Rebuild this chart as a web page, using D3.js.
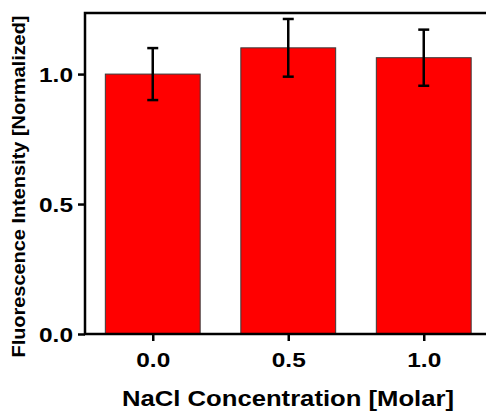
<!DOCTYPE html>
<html>
<head>
<meta charset="utf-8">
<script src="https://cdn.jsdelivr.net/npm/d3@7"></script>
<style>
    body { margin: 0; background: #fff; }
    svg { display: block; font-family: "Liberation Sans", Arial, sans-serif; }
</style>
</head>
<body>
<svg width="486" height="411"></svg>
<script>
const width = 486;
const height = 411;

// chart data
const concentrations = [0.0, 0.5, 1.0];
const intensities = [1.0, 1.101, 1.063];
const errors = [0.1, 0.111, 0.108];
const yTicks = [0.0, 0.5, 1.0];
const xTicks = [0.0, 0.5, 1.0];

const data = concentrations.map((c, i) => ({ conc: c, value: intensities[i], err: errors[i] }));

const svg = d3.select("svg");

// plot box is cut off on the right in the original
const x = d3.scaleLinear().domain([-0.25, 1.25]).range([85, 491.5]);
const y = d3.scaleLinear().domain([0, 1.235]).range([334, 13]);
const barHalf = 0.175; // in data units

// bars
svg.append("g")
    .selectAll("rect")
    .data(data)
    .enter()
    .append("rect")
    .attr("x", (d) => x(d.conc - barHalf))
    .attr("width", (d) => x(d.conc + barHalf) - x(d.conc - barHalf))
    .attr("y", (d) => y(d.value))
    .attr("height", (d) => y(0) - y(d.value))
    .attr("fill", "#ff0000")
    .attr("stroke", "#3a3a3a")
    .attr("stroke-width", 1);

// error bars
const eb = svg.append("g")
    .attr("stroke", "#000")
    .attr("stroke-width", 2.5);
eb.selectAll(".stem")
    .data(data)
    .enter()
    .append("line")
    .attr("x1", (d) => x(d.conc))
    .attr("x2", (d) => x(d.conc))
    .attr("y1", (d) => y(d.value + d.err))
    .attr("y2", (d) => y(d.value - d.err));
["top", "bottom"].forEach((side) => {
    eb.selectAll(".cap-" + side)
        .data(data)
        .enter()
        .append("line")
        .attr("x1", (d) => x(d.conc) - 5.5)
        .attr("x2", (d) => x(d.conc) + 5.5)
        .attr("y1", (d) => y(side === "top" ? d.value + d.err : d.value - d.err))
        .attr("y2", (d) => y(side === "top" ? d.value + d.err : d.value - d.err));
});

// frame
svg.append("rect")
    .attr("x", x.range()[0])
    .attr("y", y.range()[1])
    .attr("width", x.range()[1] - x.range()[0])
    .attr("height", y.range()[0] - y.range()[1])
    .attr("fill", "none")
    .attr("stroke", "#000")
    .attr("stroke-width", 2.5);

// y axis
svg.append("g")
    .attr("transform", `translate(${x.range()[0]},0)`)
    .call(d3.axisLeft(y).tickValues(yTicks).tickSize(7).tickFormat(d3.format(".1f")))
    .call((g) => g.select(".domain").remove())
    .call((g) => g.selectAll(".tick line").attr("stroke-width", 2.5))
    .call((g) =>
        g.selectAll(".tick text")
            .attr("x", -12)
            .attr("dy", 7.5)
            .attr("font-size", 21)
            .attr("font-weight", "bold")
            .attr("font-family", "Liberation Sans, Arial, sans-serif")
            .attr("fill", "#000")
            .attr("textLength", 34)
            .attr("lengthAdjust", "spacingAndGlyphs")
    );

// x axis
svg.append("g")
    .attr("transform", `translate(0,${y.range()[0]})`)
    .call(d3.axisBottom(x).tickValues(xTicks).tickSize(7).tickFormat(d3.format(".1f")))
    .call((g) => g.select(".domain").remove())
    .call((g) => g.selectAll(".tick line").attr("stroke-width", 2.5))
    .call((g) =>
        g.selectAll(".tick text")
            .attr("y", 33)
            .attr("dy", 0)
            .attr("font-size", 21)
            .attr("font-weight", "bold")
            .attr("font-family", "Liberation Sans, Arial, sans-serif")
            .attr("fill", "#000")
            .attr("textLength", 34)
            .attr("lengthAdjust", "spacingAndGlyphs")
    );

// axis titles
svg.append("text")
    .attr("x", 288)
    .attr("y", 406)
    .attr("text-anchor", "middle")
    .attr("font-size", 22)
    .attr("font-weight", "bold")
    .attr("textLength", 332)
    .attr("lengthAdjust", "spacingAndGlyphs")
    .text("NaCl Concentration [Molar]");

svg.append("text")
    .attr("transform", "translate(25,186.5) rotate(-90)")
    .attr("text-anchor", "middle")
    .attr("font-size", 18)
    .attr("font-weight", "bold")
    .attr("textLength", 342)
    .attr("lengthAdjust", "spacingAndGlyphs")
    .text("Fluorescence Intensity [Normalized]");
</script>
</body>
</html>
